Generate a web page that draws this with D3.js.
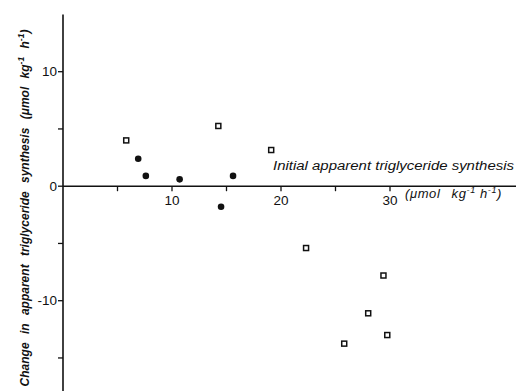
<!DOCTYPE html>
<html>
<head>
<meta charset="utf-8">
<script src="https://cdn.jsdelivr.net/npm/d3@7"></script>
<style>
  body { margin: 0; background: #fff; }
  svg { display: block; font-family: "Liberation Sans", Arial, sans-serif; }
</style>
</head>
<body>
<div id="chart"></div>
<script>
// data
const openX = [5.8, 14.25, 19.1, 22.3, 29.4, 28.0, 29.75, 25.8];
const openY = [4.0, 5.26, 3.16, -5.4, -7.8, -11.1, -13.0, -13.75];
const filledX = [6.9, 7.6, 10.7, 14.5, 15.6];
const filledY = [2.4, 0.9, 0.6, -1.8, 0.9];
const xTicks = [5, 10, 15, 20, 25, 30];
const xTickLabels = [10, 20, 30];
const yTicks = [10, 5, 0, -5, -10, -15];
const yTickLabels = [10, 0, -10];

const width = 516, height = 391;

const svg = d3.select("#chart").append("svg")
    .attr("width", width)
    .attr("height", height);

const x = d3.scaleLinear().domain([0, 30]).range([63, 390]);
const y = d3.scaleLinear().domain([-10, 10]).range([300.7, 71.7]);

const ink = "#111";

// axes (zero lines)
svg.append("line")
    .attr("x1", x(0)).attr("x2", x(41.6))
    .attr("y1", y(0)).attr("y2", y(0))
    .attr("stroke", ink).attr("stroke-width", 1.6);

svg.append("line")
    .attr("x1", x(0)).attr("x2", x(0))
    .attr("y1", y(15)).attr("y2", y(-18))
    .attr("stroke", ink).attr("stroke-width", 1.6);

// x ticks (downwards)
svg.append("g").selectAll("line")
    .data(xTicks)
    .join("line")
    .attr("x1", d => x(d)).attr("x2", d => x(d))
    .attr("y1", y(0)).attr("y2", y(0) + 5)
    .attr("stroke", ink).attr("stroke-width", 1.3);

svg.append("g").selectAll("text")
    .data(xTickLabels)
    .join("text")
    .attr("x", d => x(d))
    .attr("y", y(0) + 19)
    .attr("text-anchor", "middle")
    .attr("font-size", 13.5)
    .attr("fill", ink)
    .text(d => d);

// y ticks (left)
svg.append("g").selectAll("line")
    .data(yTicks)
    .join("line")
    .attr("x1", x(0) - 5).attr("x2", x(0))
    .attr("y1", d => y(d)).attr("y2", d => y(d))
    .attr("stroke", ink).attr("stroke-width", 1.3);

svg.append("g").selectAll("text")
    .data(yTickLabels)
    .join("text")
    .attr("x", x(0) - 6)
    .attr("y", d => y(d))
    .attr("dy", "0.35em")
    .attr("text-anchor", "end")
    .attr("font-size", 13.5)
    .attr("fill", ink)
    .text(d => d);

// x axis title
svg.append("text")
    .attr("x", 273)
    .attr("y", 170)
    .attr("textLength", 241)
    .attr("lengthAdjust", "spacingAndGlyphs")
    .attr("font-size", 12)
    .attr("font-style", "italic")
    .attr("fill", ink)
    .text("Initial apparent triglyceride synthesis");

const unitX = svg.append("text")
    .attr("x", 405)
    .attr("y", 198)
    .attr("font-size", 13)
    .attr("font-style", "italic")
    .attr("letter-spacing", 0.6)
    .attr("fill", ink);
unitX.append("tspan").attr("word-spacing", 7).text("(\u03bcmol kg");
unitX.append("tspan").attr("dy", -5).attr("font-size", 9).text("-1");
unitX.append("tspan").attr("dy", 5).text(" h");
unitX.append("tspan").attr("dy", -5).attr("font-size", 9).text("-1");
unitX.append("tspan").attr("dy", 5).text(")");

// y axis title (rotated)
const yTitle = svg.append("text")
    .attr("transform", "translate(29, 208) rotate(-90)")
    .attr("text-anchor", "middle")
    .attr("font-size", 12)
    .attr("font-style", "italic")
    .attr("font-weight", "bold")
    .attr("word-spacing", 5)
    .attr("fill", ink);
yTitle.append("tspan").text("Change in apparent triglyceride synthesis (\u03bcmol kg");
yTitle.append("tspan").attr("dy", -5).attr("font-size", 8.5).text("-1");
yTitle.append("tspan").attr("dy", 5).text(" h");
yTitle.append("tspan").attr("dy", -5).attr("font-size", 8.5).text("-1");
yTitle.append("tspan").attr("dy", 5).text(")");

// open squares
const openData = openX.map((v, i) => ({ x: v, y: openY[i] }));
svg.append("g").selectAll("rect")
    .data(openData)
    .join("rect")
    .attr("x", d => x(d.x) - 2.5)
    .attr("y", d => y(d.y) - 2.5)
    .attr("width", 5)
    .attr("height", 5)
    .attr("fill", "#fff")
    .attr("stroke", ink)
    .attr("stroke-width", 1.5);

// filled circles
const filledData = filledX.map((v, i) => ({ x: v, y: filledY[i] }));
svg.append("g").selectAll("circle")
    .data(filledData)
    .join("circle")
    .attr("cx", d => x(d.x))
    .attr("cy", d => y(d.y))
    .attr("r", 3.3)
    .attr("fill", ink);
</script>
</body>
</html>
